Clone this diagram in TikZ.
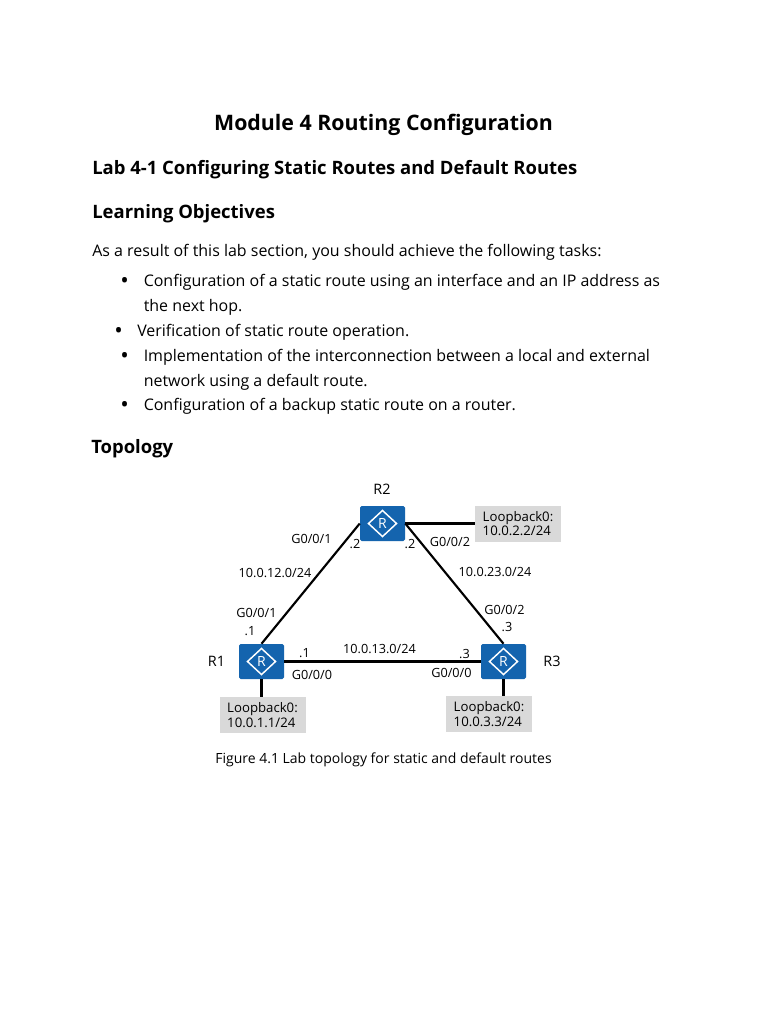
\documentclass[tikz,border=0pt]{standalone}
\usepackage{fontspec}
\setmainfont{Open Sans}
\usetikzlibrary{arrows.meta,calc,positioning,shapes.geometric}
\definecolor{routerblue}{HTML}{1464AE}
\definecolor{loopgray}{HTML}{D9D9D9}
\tikzset{
  router/.style={draw=none,fill=routerblue,rounded corners=1.2pt,minimum width=33.75pt,minimum height=26.25pt,inner sep=0pt},
  routermark/.style={diamond,draw=white,line width=1.1pt,minimum width=21.5pt,minimum height=20pt,inner sep=0pt,text=white,font=\fontsize{10.5}{11}\selectfont},
  loopbox/.style={fill=loopgray,minimum width=64.5pt,minimum height=27pt,inner sep=0pt,align=left,font=\fontsize{9.9}{11}\selectfont},
  link/.style={line width=1.6pt,draw=black},
  tag/.style={inner sep=0pt,font=\fontsize{9.5}{11}\selectfont},
  routername/.style={inner sep=0pt,font=\fontsize{10.8}{12}\selectfont},
  bodytext/.style={inner sep=0pt,anchor=base west,font=\fontsize{11.98}{14}\selectfont},
  bulletmark/.style={inner sep=0pt,anchor=base west,font=\fontsize{17}{18}\selectfont},
  headtext/.style={inner sep=0pt,anchor=base west,font=\fontsize{13.85}{16}\selectfont\bfseries}
}
\begin{document}
\begin{tikzpicture}[x=0.75pt,y=-0.75pt]
  \useasboundingbox (0,0) rectangle (768,1024);
  \fill[white] (0,0) rectangle (768,1024);
  % page text
  \node[inner sep=0pt,font=\fontsize{16}{20}\selectfont\bfseries] (title) at (383.5,125) {Module 4 Routing Configuration};
  \node[headtext] (labhead) at (92,174) {Lab 4-1 Configuring Static Routes and Default Routes};
  \node[headtext] (objhead) at (92,218) {Learning Objectives};
  \node[bodytext] (intro) at (92,256) {As a result of this lab section, you should achieve the following tasks:};
  \node[bulletmark] (dota) at (120,288) {•};
  \node[bodytext] (taska) at (143.5,286) {Configuration of a static route using an interface and an IP address as};
  \node[bodytext] (taskb) at (143.5,311) {the next hop.};
  \node[bulletmark] (dotb) at (114,338) {•};
  \node[bodytext] (taskc) at (137,336) {Verification of static route operation.};
  \node[bulletmark] (dotc) at (120,363) {•};
  \node[bodytext] (taskd) at (143.5,361) {Implementation of the interconnection between a local and external};
  \node[bodytext] (taske) at (143.5,386) {network using a default route.};
  \node[bulletmark] (dotd) at (120,412) {•};
  \node[bodytext] (taskf) at (143.5,410) {Configuration of a backup static route on a router.};
  \node[headtext] (tophead) at (91,453) {Topology};
  % routers
  \node[router] (R1) at (261.5,661.5) {};
  \node[router] (R2) at (382.5,523.5) {};
  \node[router] (R3) at (503.5,661.5) {};
  \node[routermark] (R1m) at (R1) {R};
  \node[routermark] (R2m) at (R2) {R};
  \node[routermark] (R3m) at (R3) {R};
  % loopbacks
  \node[loopbox] (L1) at (262.5,715) {Loopback0:\\10.0.1.1/24};
  \node[loopbox] (L2) at (518,523.5) {Loopback0:\\10.0.2.2/24};
  \node[loopbox] (L3) at (489,714) {Loopback0:\\10.0.3.3/24};
  % links
  \draw[link] (R1.north) -- (R2.west);
  \draw[link] (R2.east) -- (R3.north);
  \draw[link] (R1.east) -- (R3.west);
  \draw[link] (R1.south) -- (R1.south |- L1.north);
  \draw[link] (R2.east) -- (L2.west);
  \draw[link] (R3.south) -- (R3.south |- L3.north);
  % names
  \node[routername] (n1) at (216.5,661.5) {R1};
  \node[routername] (n2) at (382,489) {R2};
  \node[routername] (n3) at (552,661.5) {R3};
  % interface labels
  \node[tag] (a) at (311.5,539) {G0/0/1};
  \node[tag] (b) at (355,544) {.2};
  \node[tag] (c) at (410,544) {.2};
  \node[tag] (d) at (450,542) {G0/0/2};
  \node[tag] (e) at (275,573) {10.0.12.0/24};
  \node[tag] (f) at (495,572) {10.0.23.0/24};
  \node[tag] (g) at (256.5,613) {G0/0/1};
  \node[tag] (h) at (250,631.5) {.1};
  \node[tag] (i) at (504.5,609.5) {G0/0/2};
  \node[tag] (j) at (507,627) {.3};
  \node[tag] (k) at (379.5,648.5) {10.0.13.0/24};
  \node[tag] (l) at (304.5,653.5) {.1};
  \node[tag] (m) at (464.5,654) {.3};
  \node[tag] (o) at (312,675) {G0/0/0};
  \node[tag] (p) at (451.5,673) {G0/0/0};
  \node[tag,font=\fontsize{10.5}{12}\selectfont] (caption) at (383.5,760) {Figure 4.1 Lab topology for static and default routes};
\end{tikzpicture}
\end{document}
